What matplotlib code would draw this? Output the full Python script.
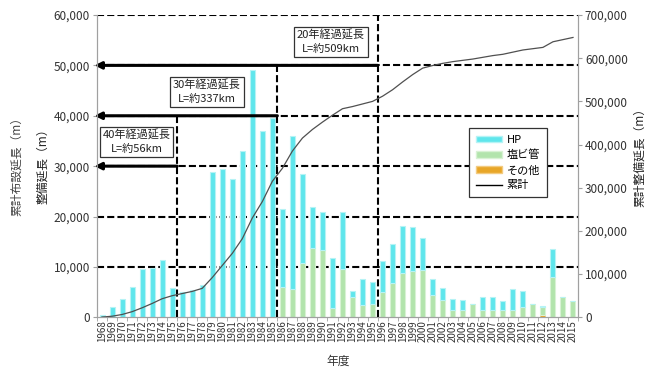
import matplotlib
matplotlib.use("Agg")
import matplotlib.pyplot as plt
from matplotlib.patches import Patch
from matplotlib.lines import Line2D
import numpy as np

plt.rcParams['font.family'] = ['Noto Sans CJK JP', 'DejaVu Sans']

years = list(range(1968, 2016))
hp = [500, 2100, 3600, 6000, 9500, 9700, 11400, 5900, 5100, 5500, 6500,
      28900, 29500, 27500, 33100, 49000, 37000, 39600,
      15400, 30200, 17700, 8200, 7600, 9900, 11400, 1200, 5200, 4300,
      6100, 7700, 9400, 8900, 6500, 3200, 2300, 2200, 2000, 0,
      2500, 2500, 1800, 4100, 3200, 0, 200, 5600, 0, 0]
pvc = [0] * 18 + [6000, 5700, 10700, 13700, 13300, 1800, 9500, 4100, 2500, 2700,
                  5000, 6800, 8700, 9100, 9300, 4500, 3500, 1500, 1500, 2600,
                  1500, 1500, 1500, 1500, 2100, 2700, 1600, 8000, 4100, 3300]
other = [0] * 44 + [500, 0, 0, 0]
cumulative = [500, 2500, 6500, 13000, 22000, 32000, 43000, 50000, 55000, 60000, 67000,
              92000, 120000, 148000, 182000, 230000, 268000, 315000,
              345000, 385000, 415000, 435000, 452000, 468000, 483000, 488000, 494000, 500000,
              512000, 527000, 545000, 562000, 577000, 583000, 588000, 592000, 595000, 598000,
              602000, 606000, 609000, 614000, 619000, 622000, 625000, 638000, 643000, 648000]

milestone_years = [1975, 1985, 1995]
milestone_levels = [30000, 40000, 50000]
milestone_tops = [40000, 50000, 60000]
milestone_texts = ["40年経過延長\nL=約56km", "30年経過延長\nL=約337km", "20年経過延長\nL=約509km"]

legend_labels = ["HP", "塩ビ管", "その他", "累計"]
left_label_outer = "累計布設延長（m）"
left_label_inner = "整備延長（m）"
right_label = "累計整備延長（m）"
x_label = "年度"

c_hp = '#5FE6EC'
c_pvc = '#B2E4AC'
c_other = '#E8A628'

W, H = 653, 369
fig = plt.figure(figsize=(W / 100, H / 100), dpi=100)
L, R, T, B = 97, 578, 15, 317.3
ax = fig.add_axes([L / W, 1 - B / H, (R - L) / W, (B - T) / H])

x = np.arange(len(years))
other_a = np.array(other)
pvc_a = np.array(pvc)
hp_a = np.array(hp)
bw = 0.5
ax.bar(x, other_a, bw, color=c_other, edgecolor='#F3CB80', linewidth=0.6, zorder=2)
ax.bar(x, pvc_a, bw, bottom=other_a, color=c_pvc, edgecolor='#D8F2D4', linewidth=0.8, zorder=2)
ax.bar(x, hp_a, bw, bottom=other_a + pvc_a, color=c_hp, edgecolor='#B5F3F5', linewidth=0.8, zorder=2)

ax.set_xlim(-0.5, len(years) - 0.5)
ax.set_ylim(0, 60000)
ax.set_yticks(np.arange(0, 60001, 10000))
ax.set_yticklabels([f"{v:,}" for v in range(0, 60001, 10000)])
ax.set_xticks(x)
ax.set_xticklabels([str(y) for y in years], rotation=90, fontsize=7, color='#333333')
ax.set_xticks(np.arange(-0.5, len(years), 1), minor=True)
ax.tick_params(axis='x', which='major', length=0, pad=2)
ax.tick_params(axis='x', which='minor', length=3, color='#A0A0A0')
ax.tick_params(axis='y', length=3, color='#A0A0A0', labelsize=8.5, labelcolor='#333333', pad=2)

for s in ['left', 'right', 'bottom']:
    ax.spines[s].set_color('#A0A0A0')
ax.spines['top'].set_visible(False)

dash = (0, (3.4, 1.5))
for lvl in range(10000, 60001, 10000):
    ax.axhline(lvl, color='black', lw=1.5, linestyle=dash, zorder=1)

for yr, lvl, top, txt in zip(milestone_years, milestone_levels, milestone_tops, milestone_texts):
    xb = years.index(yr) + 0.5
    ax.plot([xb, xb], [0, top], color='black', lw=1.5, linestyle=dash, zorder=3)
    ax.annotate('', xy=(-0.75, lvl), xytext=(xb, lvl),
                arrowprops=dict(arrowstyle='-|>', color='black', lw=2.2, mutation_scale=10,
                                shrinkA=0, shrinkB=0),
                zorder=4, annotation_clip=False)

box_centers = [(136.5, 142), (207, 92), (331, 42)]
for (cx, cy), txt in zip(box_centers, milestone_texts):
    fig.text(cx / W, 1 - cy / H, txt, ha='center', va='center', fontsize=8,
             linespacing=1.35, color='#222222',
             bbox=dict(boxstyle='square,pad=0.25', facecolor='white', edgecolor='#333333', lw=0.9),
             zorder=6)

ax2 = ax.twinx()
ax2.plot(x, cumulative, color='#505050', lw=0.9, zorder=3)
ax2.set_ylim(0, 700000)
ax2.set_yticks(np.arange(0, 700001, 100000))
ax2.set_yticklabels([f"{v:,}" for v in range(0, 700001, 100000)])
ax2.tick_params(axis='y', length=3, color='#A0A0A0', labelsize=8.5, labelcolor='#333333', pad=2)
for s in ['left', 'right', 'bottom']:
    ax2.spines[s].set_color('#A0A0A0')
ax2.spines['top'].set_visible(False)

handles = [Patch(facecolor=c_hp, edgecolor='#B5F3F5'),
           Patch(facecolor=c_pvc, edgecolor='#D8F2D4'),
           Patch(facecolor=c_other, edgecolor='#F3CB80'),
           Line2D([0], [0], color='black', lw=1.0)]
leg = ax2.legend(handles, legend_labels, loc='upper left',
                 bbox_to_anchor=((469 - L) / (R - L), (B - 128) / (B - T)),
                 fontsize=8, frameon=True, fancybox=False, edgecolor='#333333',
                 handlelength=2.4, handleheight=0.5, labelspacing=0.45,
                 borderpad=0.6, handletextpad=0.4, borderaxespad=0)
leg.get_frame().set_linewidth(0.9)
leg.get_frame().set_alpha(1)

fig.text(17 / W, 1 - 163 / H, left_label_outer, rotation=90, ha='center', va='center',
         fontsize=8.5, color='#444444')
fig.text(43 / W, 1 - 163 / H, left_label_inner, rotation=90, ha='center', va='center',
         fontsize=8.5, color='#222222')
fig.text(640 / W, 1 - 155 / H, right_label, rotation=90, ha='center', va='center',
         fontsize=8.5, color='#222222')
fig.text(338 / W, 1 - 361 / H, x_label, ha='center', va='center', fontsize=8.5, color='#333333')

fig.savefig('out.png', dpi=100)
